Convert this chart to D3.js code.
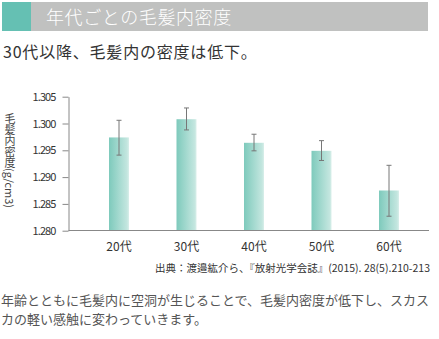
<!DOCTYPE html>
<html><head><meta charset="utf-8">
<script src="https://cdn.jsdelivr.net/npm/d3@7"></script>
<style>
html,body{margin:0;padding:0;background:#fff;}
svg{display:block;font-family:"Noto Sans CJK JP","Noto Sans",sans-serif;}
</style></head>
<body><svg id="c" width="439" height="339"></svg>
<script>
const title = "年代ごとの毛髪内密度";
const subtitle = "30代以降、毛髪内の密度は低下。";
const yLabel = "毛髪内密度(g/cm3)";
const source = "出典：渡邉紘介ら、『放射光学会誌』(2015). 28(5).210-213";
const bodyLines = ["年齢とともに毛髪内に空洞が生じることで、毛髪内密度が低下し、スカス", "カの軽い感触に変わっていきます。"];
const categories = ["20代","30代","40代","50代","60代"];
const means = [1.2974, 1.3008, 1.2964, 1.2949, 1.2875];
const errUpper = [1.3006, 1.3029, 1.2980, 1.2968, 1.2922];
const errLower = [1.2941, 1.2988, 1.2949, 1.2931, 1.2827];
const yTicks = [1.280, 1.285, 1.290, 1.295, 1.300, 1.305];

const svg = d3.select("#c");
const defs = svg.append("defs");
const g = defs.append("linearGradient").attr("id","barGrad").attr("x1","0").attr("x2","1").attr("y1","0").attr("y2","0");
g.append("stop").attr("offset","0%").attr("stop-color","#7ecabc");
g.append("stop").attr("offset","90%").attr("stop-color","#c3e6df");
g.append("stop").attr("offset","100%").attr("stop-color","#d9efea");

// header
svg.append("rect").attr("x",2).attr("y",2).attr("width",29).attr("height",29).attr("fill","#65c0b3");
svg.append("rect").attr("x",31).attr("y",2).attr("width",397).attr("height",29).attr("fill","#c0c1c0");
svg.append("text").attr("x",46).attr("y",24).attr("font-size",18).attr("font-weight",300)
  .attr("letter-spacing",0.6).attr("fill","#fff").text(title);
svg.append("text").attr("x",3).attr("y",58).attr("font-size",16).attr("letter-spacing",0.8)
  .attr("fill","#333").text(subtitle);

const y = d3.scaleLinear().domain([1.28,1.305]).range([230.7,96.7]);
const x = d3.scaleBand().domain(categories).range([85.25,422.75]);
const barW = 20;

// bars
svg.selectAll("rect.bar").data(categories).join("rect").attr("class","bar")
  .attr("x",d=>x(d)+x.bandwidth()/2-barW/2).attr("width",barW)
  .attr("y",(d,i)=>y(means[i])).attr("height",(d,i)=>y(1.28)-y(means[i]))
  .attr("fill","url(#barGrad)");

// error bars
const eb = svg.selectAll("g.eb").data(categories).join("g").attr("class","eb")
  .attr("stroke","#777").attr("stroke-width",1);
eb.append("line").attr("x1",d=>x(d)+x.bandwidth()/2).attr("x2",d=>x(d)+x.bandwidth()/2)
  .attr("y1",(d,i)=>y(errUpper[i])).attr("y2",(d,i)=>y(errLower[i]));
eb.append("line").attr("x1",d=>x(d)+x.bandwidth()/2-2.5).attr("x2",d=>x(d)+x.bandwidth()/2+2.5)
  .attr("y1",(d,i)=>y(errUpper[i])).attr("y2",(d,i)=>y(errUpper[i]));
eb.append("line").attr("x1",d=>x(d)+x.bandwidth()/2-2.5).attr("x2",d=>x(d)+x.bandwidth()/2+2.5)
  .attr("y1",(d,i)=>y(errLower[i])).attr("y2",(d,i)=>y(errLower[i]));

// y axis
const yAxis = svg.append("g").attr("transform","translate(68.5,0)")
  .call(d3.axisLeft(y).tickValues(yTicks).tickFormat(d3.format(".3f")).tickSize(6).tickSizeOuter(0));
yAxis.select(".domain").attr("stroke","#888");
yAxis.selectAll(".tick line").attr("stroke","#888");
yAxis.selectAll(".tick text").attr("x",-13).attr("font-size",11).attr("letter-spacing",-0.9)
  .attr("fill","#333").attr("font-family","'Noto Sans CJK JP',sans-serif");

// x axis
const xAxis = svg.append("g").attr("transform","translate(0,230.5)")
  .call(d3.axisBottom(x).tickSize(0).tickSizeOuter(0));
xAxis.select(".domain").attr("d","M68.5,0H429").attr("stroke","#888");
xAxis.selectAll(".tick text").attr("y",12).attr("dy","0.71em").attr("font-size",12)
  .attr("fill","#333").attr("font-family","'Noto Sans CJK JP',sans-serif");

// y label (vertical writing)
svg.append("text").attr("x",10).attr("y",113).attr("font-size",11).attr("fill","#444")
  .style("writing-mode","vertical-rl").text(yLabel);

// source
svg.append("text").attr("x",430).attr("y",272).attr("text-anchor","end").attr("font-size",10.5)
  .attr("fill","#333").text(source);

// body text
svg.selectAll("text.body").data(bodyLines).join("text").attr("class","body")
  .attr("x",1).attr("y",(d,i)=>305+i*19).attr("font-size",13).attr("fill","#555").text(d=>d);
</script></body></html>
